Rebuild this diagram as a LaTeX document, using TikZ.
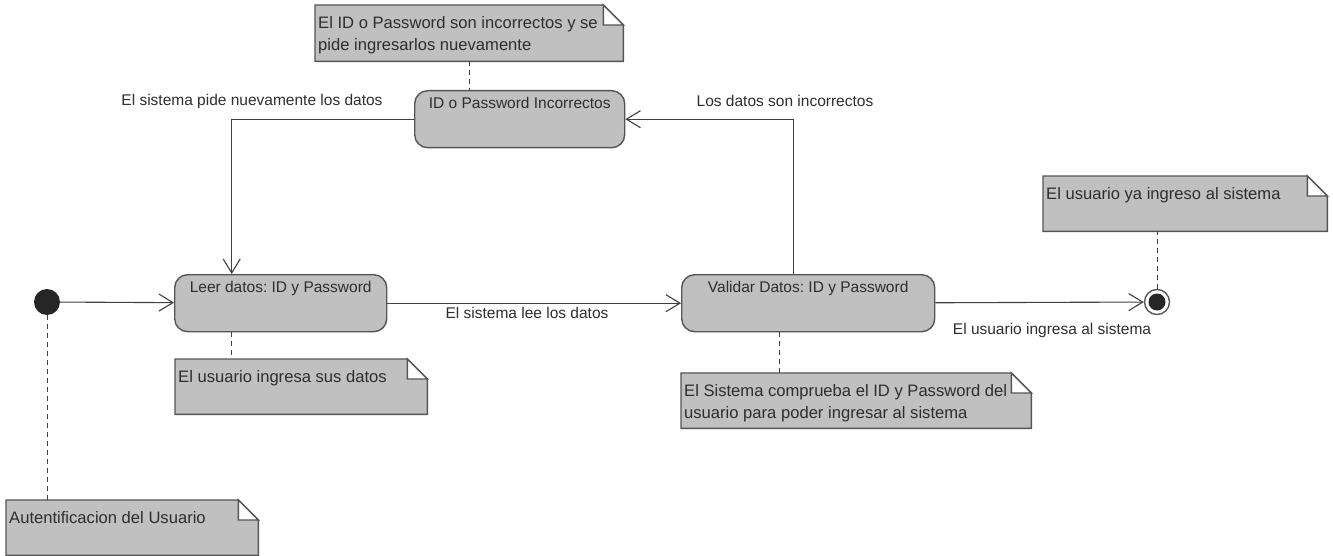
\documentclass[tikz,border=0pt]{standalone}
\usepackage{fontspec}
\setmainfont{Liberation Sans}
\usetikzlibrary{arrows.meta}

\definecolor{nodefill}{HTML}{C0C0C0}
\definecolor{edgecol}{HTML}{555555}
\definecolor{linecol}{HTML}{404040}
\definecolor{textcol}{HTML}{2E2E2E}
\definecolor{dotcol}{HTML}{262626}

\tikzset{
  statebox/.style={draw=edgecol, fill=nodefill, line width=1.4pt,
    rounded corners=13pt, inner sep=0pt, anchor=north west},
  statetext/.style={font=\fontsize{15.5}{18}\selectfont, text=textcol, inner sep=0pt},
  notebox/.style={inner sep=0pt, anchor=north west},
  notepath/.style={draw=edgecol, fill=nodefill, line width=1.4pt, line join=miter},
  notetext/.style={font=\fontsize{16.6}{22.5}\selectfont, text=textcol, inner sep=0pt, align=left},
  edgelabel/.style={font=\fontsize{15.5}{18}\selectfont, text=textcol, inner sep=0pt},
  flow/.style={draw=linecol, line width=1.1pt,
    -{Straight Barb[length=14pt,width=17pt,line width=1.1pt]}},
  anchorline/.style={draw=linecol, line width=1pt, dash pattern=on 5pt off 4pt},
}

% UML note: name, left, top, width, height, text
\newcommand\umlnote[6]{%
  \node[notebox, minimum width=#4pt, minimum height=#5pt] (#1) at (#2,#3) {};
  \draw[notepath] (#1.north west) -- ([xshift=-20pt]#1.north east)
    -- ([yshift=-20pt]#1.north east) -- (#1.south east) -- (#1.south west) -- cycle;
  \draw[notepath, fill=white] ([xshift=-20pt]#1.north east)
    -- ([xshift=-20pt,yshift=-20pt]#1.north east) -- ([yshift=-20pt]#1.north east) -- cycle;
  \node[notetext, anchor=north west] (#1-text) at ([xshift=3pt,yshift=-11pt]#1.north west) {#6};
}

\frenchspacing
\begin{document}
\begin{tikzpicture}[x=1pt, y=-1pt]
  \useasboundingbox (0,0) rectangle (1333,556);
  \fill[white] (0,0) rectangle (1333,556);

  % states
  \node[statebox, minimum width=212pt, minimum height=57pt,
    label={[statetext, anchor=north, yshift=-7pt]north:{Leer datos: ID y Password}}]
    (leer) at (174,274) {};
  \node[statebox, minimum width=253pt, minimum height=57pt,
    label={[statetext, anchor=north, yshift=-7pt]north:{Validar Datos: ID y Password}}]
    (valid) at (681,274) {};
  \node[statebox, minimum width=210pt, minimum height=57pt,
    label={[statetext, anchor=north, yshift=-7pt]north:{ID o Password Incorrectos}}]
    (wrong) at (414,90) {};

  % initial and final nodes
  \node[circle, fill=dotcol, minimum size=26pt, inner sep=0pt] (start) at (47,302) {};
  \node[circle, draw=edgecol, fill=white, line width=1.4pt, minimum size=25pt, inner sep=0pt,
    path picture={\fill[dotcol] (path picture bounding box.center) circle (8.5pt);}]
    (end) at (1157,302) {};

  % notes
  \umlnote{noteWrong}{315}{5}{308}{56}{El ID o Password son incorrectos y se\\pide ingresarlos nuevamente}
  \umlnote{noteRead}{175}{359}{252}{55}{El usuario ingresa sus datos}
  \umlnote{noteCheck}{681}{373}{350}{55}{El Sistema comprueba el ID y Password del\\usuario para poder ingresar al sistema}
  \umlnote{noteDone}{1043}{176}{284}{55}{El usuario ya ingreso al sistema}
  \umlnote{noteAuth}{6}{500}{252}{55}{Autentificacion del Usuario}

  % transitions
  \draw[flow] (start) -- (leer);
  \draw[flow] (leer) -- (valid);
  \draw[flow] (valid) -- (end);
  \draw[flow] ([xshift=-14.5pt]valid.north) |- (wrong.east);
  \draw[flow] (wrong.west) -| ([xshift=-49pt]leer.north);

  % note anchors
  \draw[anchorline] (noteWrong.south) -- (noteWrong.south |- wrong.north);
  \draw[anchorline] ([xshift=-49pt]leer.south) -- ([xshift=-49pt]leer.south |- noteRead.north);
  \draw[anchorline] ([xshift=-28.5pt]valid.south) -- ([xshift=-28.5pt]valid.south |- noteCheck.north);
  \draw[anchorline] (end.north) -- (end.north |- noteDone.south);
  \draw[anchorline] (start.south) -- (start.south |- noteAuth.north);

  % transition labels
  \node[edgelabel] (lblRetry) at (252,101) {El sistema pide nuevamente los datos};
  \node[edgelabel] (lblWrong) at (785,101) {Los datos son incorrectos};
  \node[edgelabel] (lblRead) at (527,313) {El sistema lee los datos};
  \node[edgelabel] (lblDone) at (1052,330) {El usuario ingresa al sistema};
\end{tikzpicture}
\end{document}
